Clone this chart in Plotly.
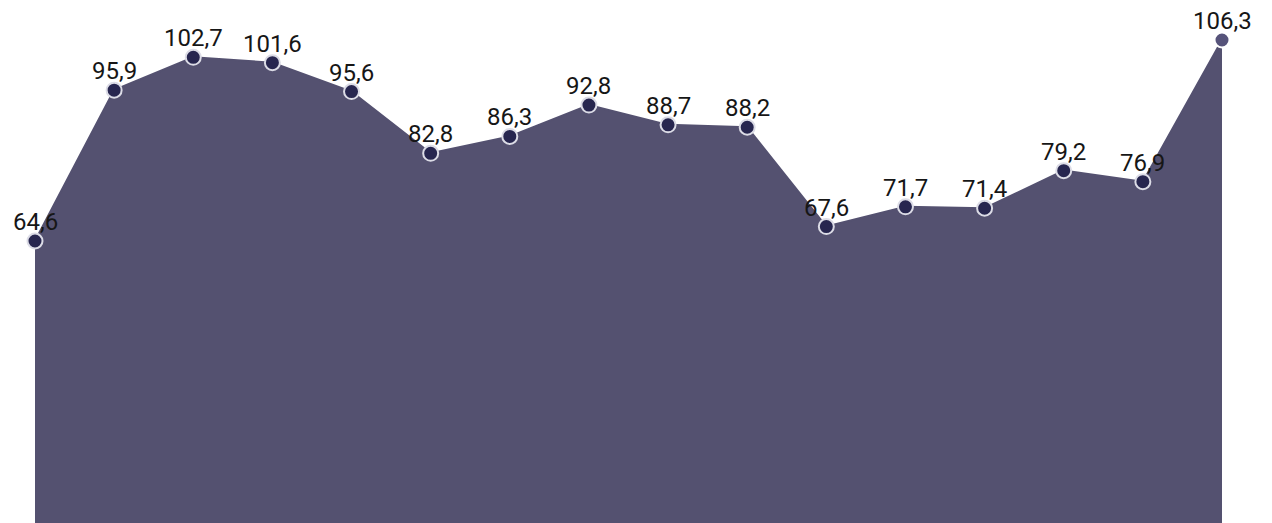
import plotly.graph_objects as go

x_idx = list(range(16))
values = [64.6, 95.9, 102.7, 101.6, 95.6, 82.8, 86.3, 92.8, 88.7, 88.2,
          67.6, 71.7, 71.4, 79.2, 76.9, 106.3]
labels = [f"{v:.1f}".replace(".", ",") for v in values]

fill_color = "#545170"
marker_colors = ["#27264f"] * 15 + ["#56537a"]
marker_line_colors = ["#dcdce6"] * 15 + ["#ffffff"]

fig = go.Figure()
fig.add_trace(go.Scatter(
    x=x_idx, y=values,
    mode="lines+markers",
    fill="tozeroy",
    fillcolor=fill_color,
    line=dict(color=fill_color, width=2),
    marker=dict(size=15, color=marker_colors,
                line=dict(color=marker_line_colors, width=2)),
    cliponaxis=False,
    hoverinfo="skip",
))

for xi, v, lab in zip(x_idx, values, labels):
    fig.add_annotation(
        x=xi, y=v, text=lab, showarrow=False,
        xanchor="center", yanchor="middle", yshift=19,
        font=dict(family="Roboto", size=24, color="#161616"),
    )

fig.update_layout(
    width=1272, height=523,
    margin=dict(l=35, r=50, t=0, b=0),
    paper_bgcolor="white", plot_bgcolor="white",
    showlegend=False,
    xaxis=dict(range=[0, 15], visible=False, fixedrange=True),
    yaxis=dict(range=[6.1, 114.6], visible=False, fixedrange=True),
)

fig.write_html("out.html", config={"displayModeBar": False},
               post_script="document.body.style.margin='0';")
